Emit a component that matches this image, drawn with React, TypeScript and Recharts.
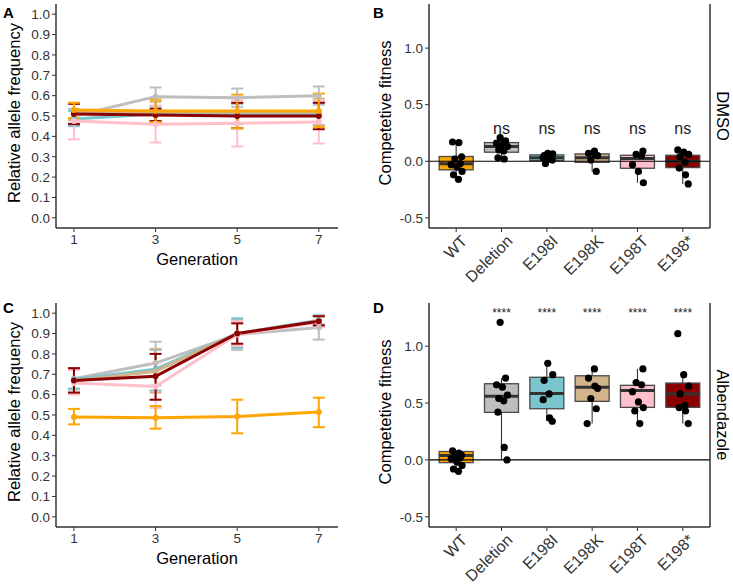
import React from 'react';
import { ComposedChart, Line, XAxis, YAxis, ErrorBar, Bar, Scatter, ReferenceLine } from 'recharts';

const FONT = '"Liberation Sans", Arial, Helvetica, sans-serif';

// ---------- categories ----------
const generations = [1, 3, 5, 7];
const strains = ['WT', 'Deletion', 'E198I', 'E198K', 'E198T', 'E198*'];
const strainColors = ['#FFA500', '#BEBEBE', '#7AC5CD', '#D2B48C', '#FFC0CB', '#8B0000'];
const freqTicks = [0, 0.1, 0.2, 0.3, 0.4, 0.5, 0.6, 0.7, 0.8, 0.9, 1.0];
const fitTicks = [-0.5, 0, 0.5, 1.0];

// ---------- Panel A: DMSO allele frequency (mean, lower, upper) ----------
const dmsoWTMean = [0.53, 0.525, 0.525, 0.525];
const dmsoWTLo = [0.49, 0.47, 0.44, 0.445];
const dmsoWTHi = [0.565, 0.58, 0.605, 0.61];
const dmsoDelMean = [0.5, 0.595, 0.59, 0.6];
const dmsoDelLo = [0.465, 0.55, 0.545, 0.555];
const dmsoDelHi = [0.535, 0.64, 0.635, 0.645];
const dmsoIMean = [0.485, 0.51, 0.51, 0.51];
const dmsoILo = [0.45, 0.475, 0.46, 0.455];
const dmsoIHi = [0.525, 0.545, 0.56, 0.565];
const dmsoKMean = [0.52, 0.52, 0.52, 0.52];
const dmsoKLo = [0.48, 0.47, 0.46, 0.455];
const dmsoKHi = [0.56, 0.57, 0.58, 0.585];
const dmsoTMean = [0.475, 0.46, 0.465, 0.47];
const dmsoTLo = [0.385, 0.37, 0.35, 0.365];
const dmsoTHi = [0.565, 0.55, 0.58, 0.575];
const dmsoStarMean = [0.51, 0.505, 0.5, 0.5];
const dmsoStarLo = [0.46, 0.475, 0.44, 0.435];
const dmsoStarHi = [0.56, 0.535, 0.565, 0.565];

// ---------- Panel C: Albendazole allele frequency ----------
const albWTMean = [0.49, 0.487, 0.493, 0.515];
const albWTLo = [0.454, 0.433, 0.41, 0.44];
const albWTHi = [0.53, 0.544, 0.575, 0.585];
const albDelMean = [0.678, 0.755, 0.895, 0.93];
const albDelLo = [0.625, 0.645, 0.82, 0.87];
const albDelHi = [0.73, 0.86, 0.97, 0.985];
const albIMean = [0.675, 0.725, 0.9, 0.965];
const albILo = [0.63, 0.62, 0.83, 0.945];
const albIHi = [0.725, 0.82, 0.975, 0.99];
const albKMean = [0.668, 0.715, 0.9, 0.96];
const albKLo = [0.61, 0.61, 0.84, 0.94];
const albKHi = [0.725, 0.825, 0.96, 0.985];
const albTMean = [0.657, 0.64, 0.895, 0.955];
const albTLo = [0.6, 0.535, 0.84, 0.93];
const albTHi = [0.72, 0.755, 0.96, 0.985];
const albStarMean = [0.67, 0.69, 0.9, 0.96];
const albStarLo = [0.61, 0.575, 0.85, 0.94];
const albStarHi = [0.73, 0.8, 0.95, 0.985];

// ---------- Panel B: DMSO competitive fitness ----------
const dmsoMin = [-0.16, 0.02, -0.02, -0.09, -0.19, -0.2];
const dmsoQ1 = [-0.076, 0.08, 0.006, -0.01, -0.062, -0.056];
const dmsoMed = [-0.022, 0.13, 0.03, 0.03, 0.024, 0.0];
const dmsoQ3 = [0.042, 0.165, 0.056, 0.065, 0.053, 0.053];
const dmsoMax = [0.17, 0.21, 0.07, 0.09, 0.09, 0.1];
const dmsoPtsWT = [0.17, 0.165, 0.04, 0.02, -0.02, -0.03, -0.05, -0.09, -0.12, -0.16];
const dmsoPtsDel = [0.21, 0.18, 0.16, 0.15, 0.13, 0.1, 0.09, 0.03, 0.02];
const dmsoPtsI = [0.07, 0.065, 0.05, 0.04, 0.03, 0.02, 0.01, -0.02];
const dmsoPtsK = [0.09, 0.07, 0.06, 0.05, 0.01, -0.09];
const dmsoPtsT = [0.09, 0.06, 0.05, -0.03, -0.09, -0.19];
const dmsoPtsStar = [0.1, 0.08, 0.06, 0.04, -0.01, -0.06, -0.12, -0.2];
const dmsoSig = ['', 'ns', 'ns', 'ns', 'ns', 'ns'];
const dmsoSigY = 0.29;

// ---------- Panel D: Albendazole competitive fitness ----------
const albMin = [-0.1, 0.0, 0.34, 0.32, 0.32, 0.32];
const albQ1 = [-0.024, 0.418, 0.45, 0.515, 0.462, 0.462];
const albMed = [0.038, 0.56, 0.585, 0.64, 0.61, 0.58];
const albQ3 = [0.074, 0.67, 0.727, 0.74, 0.656, 0.676];
const albMax = [0.08, 0.72, 0.85, 0.8, 0.8, 0.75];
const albPtsWT = [0.08, 0.06, 0.04, 0.03, 0.02, 0.01, -0.02, -0.05, -0.08, -0.1];
const albPtsDel = [1.21, 0.72, 0.66, 0.64, 0.57, 0.54, 0.52, 0.42, 0.11, 0.0];
const albPtsI = [0.85, 0.75, 0.7, 0.58, 0.53, 0.37, 0.34];
const albPtsK = [0.8, 0.72, 0.65, 0.63, 0.54, 0.45, 0.32];
const albPtsT = [0.8, 0.68, 0.66, 0.6, 0.51, 0.46, 0.43, 0.32];
const albPtsStar = [1.11, 0.75, 0.65, 0.58, 0.48, 0.46, 0.43, 0.32];
const albSig = ['', '****', '****', '****', '****', '****'];
const albSigY = 1.29;

// fixed jitter pattern (category units)
const JITTER = [-0.08, 0.06, 0.12, -0.03, 0.09, -0.11, 0.02, 0.13, -0.06, 0.05];

// draw order for line panels (indices into strains)
const LINE_ORDER = [1, 2, 3, 4, 5, 0];

// ---------- builders ----------
function buildSeries(means: number[][], los: number[][], his: number[][]) {
  return LINE_ORDER.map((i) => ({
    name: strains[i],
    color: strainColors[i],
    data: generations.map((g, k) => ({
      gen: g,
      m: means[i][k],
      err: [means[i][k] - los[i][k], his[i][k] - means[i][k]],
    })),
  }));
}

function buildBoxes(mins: number[], q1: number[], med: number[], q3: number[], maxs: number[]) {
  return strains.map((s, i) => ({ x: i + 1, name: s, min: mins[i], q1: q1[i], med: med[i], q3: q3[i], max: maxs[i] }));
}

function buildPoints(groups: number[][]) {
  const out: { x: number; y: number }[] = [];
  groups.forEach((vals, i) => {
    vals.forEach((v, k) => out.push({ x: i + 1 + JITTER[(k + i * 3) % JITTER.length], y: v }));
  });
  return out;
}

function buildSig(labels: string[], yv: number) {
  return labels.map((l, i) => ({ x: i + 1, y: yv, label: l })).filter((d) => d.label !== '');
}

const seriesA = buildSeries(
  [dmsoWTMean, dmsoDelMean, dmsoIMean, dmsoKMean, dmsoTMean, dmsoStarMean],
  [dmsoWTLo, dmsoDelLo, dmsoILo, dmsoKLo, dmsoTLo, dmsoStarLo],
  [dmsoWTHi, dmsoDelHi, dmsoIHi, dmsoKHi, dmsoTHi, dmsoStarHi]
);
const seriesC = buildSeries(
  [albWTMean, albDelMean, albIMean, albKMean, albTMean, albStarMean],
  [albWTLo, albDelLo, albILo, albKLo, albTLo, albStarLo],
  [albWTHi, albDelHi, albIHi, albKHi, albTHi, albStarHi]
);
const boxesB = buildBoxes(dmsoMin, dmsoQ1, dmsoMed, dmsoQ3, dmsoMax);
const boxesD = buildBoxes(albMin, albQ1, albMed, albQ3, albMax);
const pointsB = buildPoints([dmsoPtsWT, dmsoPtsDel, dmsoPtsI, dmsoPtsK, dmsoPtsT, dmsoPtsStar]);
const pointsD = buildPoints([albPtsWT, albPtsDel, albPtsI, albPtsK, albPtsT, albPtsStar]);
const sigB = buildSig(dmsoSig, dmsoSigY);
const sigD = buildSig(albSig, albSigY);

// ---------- label / shape components ----------
const AXIS_COLOR = '#333333';
const TICK_COLOR = '#333333';
const TITLE_SIZE = 16.5;
const BOX_HALF_WIDTH = 17;

const YTitle = (props: any) => {
  const vb = props.viewBox || { x: 0, y: 0, width: 0, height: 0 };
  const cx = props.px;
  const cy = vb.y + vb.height / 2 - 3;
  return (
    <text x={cx} y={cy} transform={`rotate(-90 ${cx} ${cy})`} textAnchor="middle" fontSize={TITLE_SIZE} fill="#000" fontFamily={FONT}>
      {props.t}
    </text>
  );
};

const XTitle = (props: any) => {
  const vb = props.viewBox || { x: 0, y: 0, width: 0, height: 0 };
  const cx = vb.x + vb.width / 2;
  const cy = vb.y + props.py;
  return (
    <text x={cx} y={cy} textAnchor="middle" fontSize={TITLE_SIZE} fill="#000" fontFamily={FONT}>
      {props.t}
    </text>
  );
};

const StripLabel = (props: any) => {
  const vb = props.viewBox || { x: 0, y: 0, width: 0, height: 0 };
  const cx = vb.x + props.px;
  const cy = vb.y + vb.height / 2;
  return (
    <text x={cx} y={cy} transform={`rotate(90 ${cx} ${cy})`} textAnchor="middle" fontSize={TITLE_SIZE} fill="#000" fontFamily={FONT}>
      {props.t}
    </text>
  );
};

const RotTick = (props: any) => {
  const { x, y, payload } = props;
  const name = strains[Math.round(payload.value) - 1] ?? '';
  return (
    <text
      transform={`translate(${x + 4},${y}) rotate(-45)`}
      textAnchor="end"
      dy="0.71em"
      fontSize={16}
      fill={TICK_COLOR}
      fontFamily={FONT}
    >
      {name}
    </text>
  );
};

// Boxplot drawn from the [min, max] range bar: pixel positions of quartiles
// are derived from the bar's own scaled extent.
const BoxShape = (p: any) => {
  const { x, y, width, height, payload } = p;
  if (x == null || y == null || !payload) return null;
  const top = Math.min(y, y + height);
  const h = Math.abs(height);
  const span = payload.max - payload.min;
  const unit = span > 0 ? h / span : 0;
  const q3Y = top + (payload.max - payload.q3) * unit;
  const q1Y = top + (payload.max - payload.q1) * unit;
  const medY = top + (payload.max - payload.med) * unit;
  const cx = x + (width || 0) / 2;
  const color = strainColors[payload.x - 1];
  return (
    <g>
      <line x1={cx} x2={cx} y1={top} y2={top + h} stroke="#333" strokeWidth={1.1} />
      <rect
        x={cx - BOX_HALF_WIDTH}
        y={q3Y}
        width={BOX_HALF_WIDTH * 2}
        height={q1Y - q3Y}
        fill={color}
        stroke="#4a4a4a"
        strokeWidth={1.3}
      />
      <line x1={cx - BOX_HALF_WIDTH} x2={cx + BOX_HALF_WIDTH} y1={medY} y2={medY} stroke="#333" strokeWidth={3} />
    </g>
  );
};

const DotShape = (p: any) => <circle cx={p.cx} cy={p.cy} r={3.6} fill="#000" />;

const SigShape = (fontSize: number) => (p: any) => (
  <text x={p.cx} y={p.cy} textAnchor="middle" dominantBaseline="central" fontSize={fontSize} fill="#222" fontFamily={FONT}>
    {p.payload.label}
  </text>
);

const tickStyle = { fontSize: 13.5, fill: TICK_COLOR, fontFamily: FONT };

// ---------- panels ----------
function FreqPanel({ series, height, xAxisHeight }: any) {
  return (
    <ComposedChart width={370} height={height} margin={{ top: 4, right: 32, bottom: height - 4 - 224 - xAxisHeight, left: 0 }}>
      <XAxis
        dataKey="gen"
        type="number"
        domain={[0.56, 7.47]}
        ticks={generations}
        interval={0}
        allowDataOverflow
        tick={tickStyle}
        tickSize={4}
        tickLine={{ stroke: AXIS_COLOR }}
        axisLine={{ stroke: AXIS_COLOR, strokeWidth: 1.5 }}
        height={xAxisHeight}
        label={<XTitle t="Generation" py={37} />}
      />
      <YAxis
        type="number"
        domain={[-0.05, 1.05]}
        ticks={freqTicks}
        interval={0}
        allowDataOverflow
        tickFormatter={(v: number) => v.toFixed(1)}
        tick={tickStyle}
        tickSize={4}
        tickLine={{ stroke: AXIS_COLOR }}
        axisLine={{ stroke: AXIS_COLOR, strokeWidth: 1.5 }}
        width={56}
        label={<YTitle t="Relative allele frequency" px={20} />}
      />
      {series.map((s: any) => (
        <Line
          key={s.name}
          data={s.data}
          dataKey="m"
          stroke={s.color}
          strokeWidth={3}
          dot={{ r: 3, fill: s.color, stroke: s.color, strokeWidth: 0 }}
          activeDot={false}
          isAnimationActive={false}
        >
          <ErrorBar dataKey="err" width={6} strokeWidth={2} stroke={s.color} direction="y" isAnimationActive={false} />
        </Line>
      ))}
    </ComposedChart>
  );
}

function FitPanel({ boxes, points, sig, sigSize, strip, height, domain }: any) {
  const xAxisHeight = height - 4 - 224;
  return (
    <ComposedChart width={363} height={height} data={boxes} margin={{ top: 4, right: 3, bottom: 0, left: 0 }}>
      <XAxis
        xAxisId="main"
        dataKey="x"
        type="number"
        domain={[0.4, 6.6]}
        ticks={[1, 2, 3, 4, 5, 6]}
        allowDataOverflow
        tick={<RotTick />}
        tickSize={4}
        tickLine={{ stroke: AXIS_COLOR }}
        axisLine={{ stroke: AXIS_COLOR, strokeWidth: 1.5 }}
        height={xAxisHeight}
        interval={0}
      />
      <YAxis
        yAxisId="left"
        type="number"
        domain={domain}
        ticks={fitTicks}
        interval={0}
        allowDataOverflow
        tickFormatter={(v: number) => v.toFixed(1)}
        tick={tickStyle}
        tickSize={4}
        tickLine={{ stroke: AXIS_COLOR }}
        axisLine={{ stroke: AXIS_COLOR, strokeWidth: 1.5 }}
        width={59}
        label={<YTitle t="Competetive fitness" px={21} />}
      />
      <YAxis
        yAxisId="strip"
        orientation="right"
        type="number"
        domain={[0, 1]}
        tick={false}
        tickLine={false}
        axisLine={{ stroke: AXIS_COLOR, strokeWidth: 1.5 }}
        width={20}
        label={<StripLabel t={strip} px={7} />}
      />
      <Bar
        xAxisId="main"
        yAxisId="left"
        dataKey={(d: any) => [d.min, d.max]}
        barSize={34}
        shape={<BoxShape />}
        isAnimationActive={false}
      />
      <ReferenceLine xAxisId="main" yAxisId="left" y={0} stroke="#000" strokeWidth={1.2} />
      <Scatter xAxisId="main" yAxisId="left" data={points} dataKey="y" shape={DotShape} isAnimationActive={false} />
      <Scatter xAxisId="main" yAxisId="left" data={sig} dataKey="y" shape={SigShape(sigSize)} isAnimationActive={false} />
    </ComposedChart>
  );
}

const letterStyle = (left: number, top: number): React.CSSProperties => ({
  position: 'absolute',
  left,
  top,
  fontFamily: FONT,
  fontWeight: 'bold',
  fontSize: 15,
  lineHeight: '15px',
  color: '#000',
});

export default function App() {
  return (
    <div style={{ position: 'absolute', left: 0, top: 0, width: 733, height: 584, overflow: 'hidden', background: '#fff' }}>
      <div style={{ position: 'absolute', left: 0, top: 0 }}>
        <FreqPanel series={seriesA} height={290} xAxisHeight={50} />
      </div>
      <div style={{ position: 'absolute', left: 370, top: 0 }}>
        <FitPanel boxes={boxesB} points={pointsB} sig={sigB} sigSize={16} strip="DMSO" height={290} domain={[-0.59, 1.39]} />
      </div>
      <div style={{ position: 'absolute', left: 0, top: 299 }}>
        <FreqPanel series={seriesC} height={285} xAxisHeight={50} />
      </div>
      <div style={{ position: 'absolute', left: 370, top: 299 }}>
        <FitPanel boxes={boxesD} points={pointsD} sig={sigD} sigSize={12} strip="Albendazole" height={285} domain={[-0.59, 1.38]} />
      </div>
      <div style={letterStyle(3, 5)}>A</div>
      <div style={letterStyle(373, 5)}>B</div>
      <div style={letterStyle(3, 300)}>C</div>
      <div style={letterStyle(373, 300)}>D</div>
    </div>
  );
}
